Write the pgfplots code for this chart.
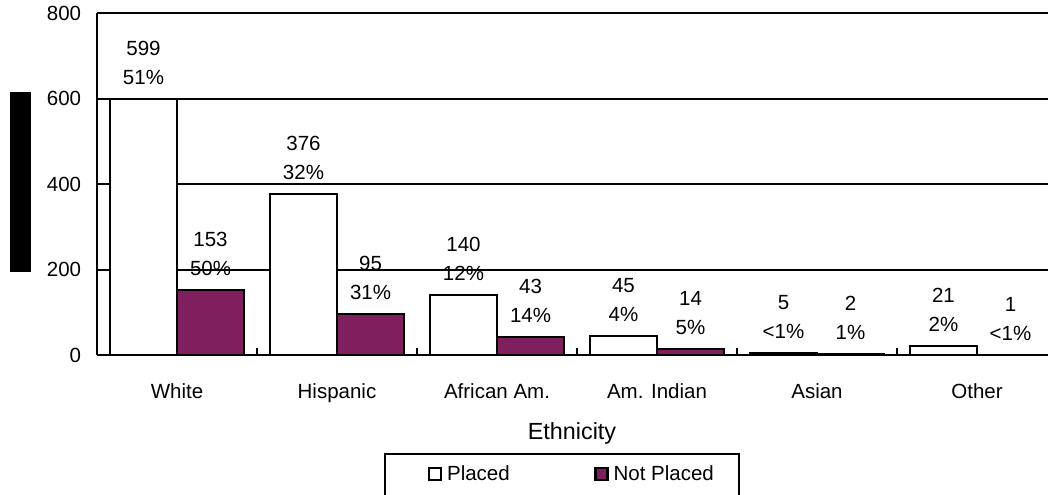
\documentclass[border=0pt]{standalone}
\usepackage{fontspec}
\setmainfont{Liberation Sans}
\usepackage{pgfplots}
\pgfplotsset{compat=1.18}
\definecolor{plum}{RGB}{128,31,94}

\begin{document}
\begin{tikzpicture}
% 1 px of the reference = 0.6pt
\useasboundingbox (0,0) rectangle (628.8pt,297pt);
\begin{axis}[
    at={(58.2pt,84pt)}, anchor=south west,
    scale only axis,
    width=576pt, height=205.2pt,
    ybar=0pt,
    bar width=0.419,
    xmin=-0.5, xmax=5.5,
    ymin=0, ymax=800,
    enlargelimits=false,
    axis x line*=bottom, axis y line*=left,
    axis line style={-, line width=1.2pt},
    ytick={0,200,...,800},
    ymajorgrids,
    major grid style={black, line width=1.2pt},
    ytick style={draw=none},
    xtick={0,...,5},
    xticklabels={White,Hispanic,African Am.,Am. Indian,Asian,Other},
    major x tick style={draw=none},
    minor xtick={0.5,1.5,2.5,3.5,4.5},
    minor x tick style={black, line width=1pt},
    minor tick length=4pt,
    tick align=inside,
    /pgf/number format/assume math mode=true,
    tick label style={font=\fontsize{12.3}{14.8}\selectfont},
    yticklabel style={xshift=-6pt},
    xticklabel style={yshift=-13.5pt},
    xlabel={Ethnicity},
    xlabel style={at={(axis description cs:0.4948,0)}, anchor=center, yshift=-47pt, font=\fontsize{14}{16.8}\selectfont},
    ylabel={\phantom{x}},
    ylabel style={at={(axis description cs:0,0.5058)}, anchor=south, yshift=39.6pt,
        fill=black, inner sep=0pt, minimum width=108pt, minimum height=12.6pt},
    point meta=explicit symbolic,
    nodes near coords,
    every node near coord/.append style={align=center, anchor=south, inner sep=0pt, yshift=8pt,
        font=\fontsize{12.3}{17.4}\selectfont, black},
    legend columns=2,
    legend cell align=left,
    legend image code/.code={\path (-10.8pt,-16pt); \draw[#1, line width=1.3pt] (0pt,-3.6pt) rectangle (7.2pt,3.6pt);},
    legend style={at={(0.299,-0.286)}, anchor=north west, draw=black, line width=1.2pt,
        inner xsep=15pt, inner ysep=7pt, font=\fontsize{12.3}{14.8}\selectfont,
        nodes={inner sep=0pt},
        /tikz/every odd column/.append style={column sep=3pt},
        /tikz/every even column/.append style={column sep=40pt}},
]
\addplot[fill=white, draw=black, line width=1.2pt] coordinates {
    (0,599) [{599\\51\%}]
    (1,376) [{376\\32\%}]
    (2,140) [{140\\12\%}]
    (3,45) [{45\\4\%}]
    (4,5) [{5\\<1\%}]
    (5,21) [{21\\2\%}]
};
\addlegendentry{Placed}
\addplot[fill=plum, draw=black, line width=1.2pt] coordinates {
    (0,153) [{153\\50\%}]
    (1,95) [{95\\31\%}]
    (2,43) [{43\\14\%}]
    (3,14) [{14\\5\%}]
    (4,2) [{2\\1\%}]
    (5,1) [{1\\<1\%}]
};
\addlegendentry{Not Placed}
\end{axis}
\end{tikzpicture}
\end{document}
